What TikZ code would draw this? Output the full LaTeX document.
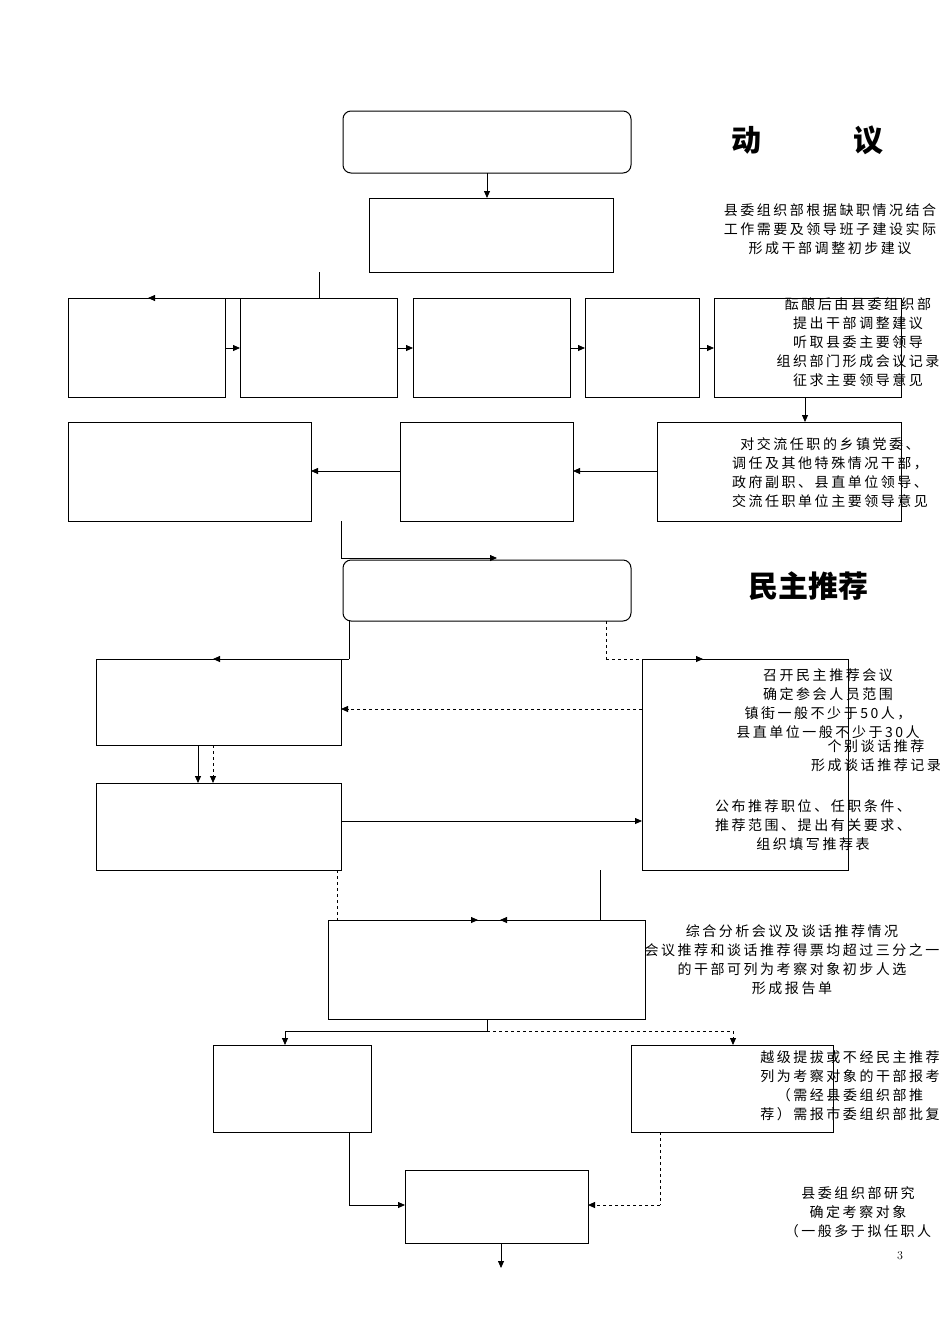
\documentclass[tikz,border=0pt]{standalone}
\usepackage{fontspec}
\newfontfamily\cjk[LetterSpace=18]{Noto Sans CJK SC}
\newfontfamily\cjkh{Noto Sans CJK SC}
\usetikzlibrary{arrows.meta}
\begin{document}
\begin{tikzpicture}[x=1pt,y=-1pt,
 bx/.style={draw,line width=1pt},
 rb/.style={draw,line width=1pt,rounded corners=8pt},
 ar/.style={-{Triangle[length=7pt,width=6pt]},line width=0.8pt},
 ln/.style={line width=0.8pt},
 da/.style={dashed,line width=0.8pt},
 tx/.style={font=\cjk\fontsize{14}{19}\selectfont,align=center,inner sep=0pt},
 hd/.style={font=\cjkh\bfseries\fontsize{30}{34}\selectfont,inner sep=0pt}]
\useasboundingbox (0,0) rectangle (950,1344);
\fill[white] (0,0) rectangle (950,1344);
% top section
\draw[rb] (343,111) rectangle (631,173);
\node[hd] (h1) at (746,140) {动};
\node[hd] (h2) at (868,140) {议};
\draw[bx] (369,198) rectangle (613,272);
\draw[ar] (487,173) -- (487,198);
\node[tx] (t1) at (830,229) {县委组织部根据缺职情况结合\\工作需要及领导班子建设实际\\形成干部调整初步建议};
\foreach \a/\b in {68/225,240/397,413/570,585/699,714/901}{\draw[bx] (\a,298) rectangle (\b,397);}
\draw[ln] (319,272) -- (319,298);
\draw[ar] (319,298) -- (148,298);
\foreach \a/\b in {225/240,397/413,570/585,699/714}{\draw[ar] (\a,348) -- (\b,348);}
\node[tx] (t2) at (858,342) {酝酿后由县委组织部\\提出干部调整建议\\听取县委主要领导\\组织部门形成会议记录\\征求主要领导意见};
\draw[ar] (805,397) -- (805,422);
\draw[bx] (68,422) rectangle (311,521);
\draw[bx] (400,422) rectangle (573,521);
\draw[bx] (657,422) rectangle (901,521);
\draw[ar] (657,471) -- (573,471);
\draw[ar] (400,471) -- (311,471);
\node[tx] (t3) at (830,473) {对交流任职的乡镇党委、\\调任及其他特殊情况干部，\\政府副职、县直单位领导、\\交流任职单位主要领导意见};
\draw[ln] (341,521) -- (341,558);
\draw[ar] (341,558) -- (497,558);
% 民主推荐
\draw[rb] (343,560) rectangle (631,621);
\node[hd] (h3) at (808,586) {民主推荐};
\draw[bx] (96,659) rectangle (341,745);
\draw[bx] (642,659) rectangle (848,870);
\draw[bx] (96,783) rectangle (341,870);
\draw[ln] (349,621) -- (349,659);
\draw[ar] (349,659) -- (213,659);
\draw[da] (606,621) -- (606,659);
\draw[ar,dashed] (606,659) -- (703,659);
\draw[ar,dashed] (642,709) -- (341,709);
\draw[ar] (198,745) -- (198,783);
\draw[ar,dashed] (213,745) -- (213,783);
\draw[ar] (341,821) -- (642,821);
\node[tx] (t4) at (828,704) {召开民主推荐会议\\确定参会人员范围\\镇街一般不少于50人，\\县直单位一般不少于30人};
\node[tx] (t5) at (876,756) {个别谈话推荐\\形成谈话推荐记录};
\node[tx] (t6) at (813,825) {公布推荐职位、任职条件、\\推荐范围、提出有关要求、\\组织填写推荐表};
\draw[bx] (328,920) rectangle (645,1019);
\draw[da] (337,870) -- (337,920);
\draw[ar,dashed] (337,920) -- (478,920);
\draw[ln] (600,870) -- (600,920);
\draw[ar] (600,920) -- (500,920);
\node[tx] (t7) at (792,960) {综合分析会议及谈话推荐情况\\会议推荐和谈话推荐得票均超过三分之一\\的干部可列为考察对象初步人选\\形成报告单};
\draw[ln] (487,1019) -- (487,1031) -- (285,1031);
\draw[ar] (285,1031) -- (285,1045);
\draw[da] (487,1031) -- (733,1031);
\draw[ar,dashed] (733,1031) -- (733,1045);
\draw[bx] (213,1045) rectangle (371,1132);
\draw[bx] (631,1045) rectangle (833,1132);
\node[tx] (t8) at (850,1086) {越级提拔或不经民主推荐\\列为考察对象的干部报考\\（需经县委组织部推\\荐）需报市委组织部批复};
\draw[bx] (405,1170) rectangle (588,1243);
\draw[ln] (349,1132) -- (349,1205);
\draw[ar] (349,1205) -- (405,1205);
\draw[da] (660,1132) -- (660,1205);
\draw[ar,dashed] (660,1205) -- (588,1205);
\draw[ar] (501,1243) -- (501,1268);
\node[tx] (t9) at (858,1212) {县委组织部研究\\确定考察对象\\（一般多于拟任职人};
\node[font=\fontsize{12}{14}\selectfont] (pg) at (900,1256) {3};
\end{tikzpicture}
\end{document}
